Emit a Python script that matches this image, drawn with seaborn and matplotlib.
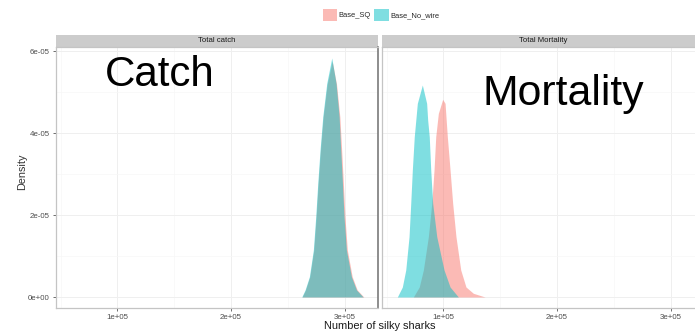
import pandas as pd
import matplotlib.pyplot as plt
import seaborn as sns
from matplotlib.patches import Rectangle, Patch
from matplotlib.ticker import FuncFormatter, MultipleLocator

# density curves (x in 1e5 sharks, density in 1e-5)
catch_sq_x = [2.627, 2.656, 2.694, 2.729, 2.750, 2.768, 2.788, 2.812, 2.847, 2.891,
              2.929, 2.958, 2.974, 2.989, 3.003, 3.024, 3.067, 3.111, 3.169]
catch_sq_y = [0, 0.171, 0.495, 1.146, 1.959, 2.780, 3.585, 4.398, 5.190, 5.750,
              5.190, 4.398, 3.585, 2.780, 1.959, 1.146, 0.495, 0.171, 0]
catch_nw_x = [2.623, 2.652, 2.690, 2.725, 2.746, 2.764, 2.784, 2.808, 2.843, 2.887,
              2.925, 2.952, 2.966, 2.981, 2.995, 3.016, 3.060, 3.105, 3.163]
catch_nw_y = [0, 0.171, 0.495, 1.146, 1.959, 2.780, 3.585, 4.398, 5.212, 5.830,
              5.212, 4.398, 3.585, 2.780, 1.959, 1.146, 0.495, 0.171, 0]
mort_sq_x = [0.736, 0.788, 0.824, 0.868, 0.898, 0.918, 0.933, 0.956, 0.994,
             1.015, 1.035, 1.059, 1.082, 1.111, 1.153, 1.199, 1.264, 1.367]
mort_sq_y = [0, 0.244, 0.659, 1.471, 2.285, 3.098, 3.910, 4.480, 4.822,
             4.724, 3.910, 3.098, 2.285, 1.471, 0.659, 0.244, 0.090, 0]
mort_nw_x = [0.595, 0.639, 0.669, 0.698, 0.713, 0.727, 0.744, 0.771, 0.815,
             0.853, 0.862, 0.876, 0.889, 0.906, 0.942, 1.006, 1.059, 1.132]
mort_nw_y = [0, 0.244, 0.659, 1.471, 2.285, 3.098, 3.910, 4.724, 5.171,
             4.724, 4.317, 3.910, 3.098, 2.285, 1.471, 0.659, 0.244, 0]

panels = ["Total catch", "Total Mortality"]
scenarios = ["Base_SQ", "Base_No_wire"]
colors = ["#F8766D", "#00BFC4"]

curves = [
    (panels[0], scenarios[0], catch_sq_x, catch_sq_y),
    (panels[0], scenarios[1], catch_nw_x, catch_nw_y),
    (panels[1], scenarios[0], mort_sq_x, mort_sq_y),
    (panels[1], scenarios[1], mort_nw_x, mort_nw_y),
]
rows = []
for p, s, xs, ys in curves:
    for xv, yv in zip(xs, ys):
        rows.append({"panel": p, "scenario": s, "x": xv * 1e5, "density": yv * 1e-5})
df = pd.DataFrame(rows)

sns.set_theme(style="white")
plt.rcParams['font.family'] = ['Liberation Sans', 'DejaVu Sans']

g = sns.FacetGrid(df, col="panel", col_order=panels, hue="scenario",
                  hue_order=scenarios, palette=colors, despine=False)
g.map(plt.fill_between, "x", "density", alpha=0.5, linewidth=0)
g.set_titles("")
g.set_axis_labels("", "")

fig = g.figure
fig.set_size_inches(6.95, 3.33)
W, H = 695, 333
pw, ph = 322, 261
lefts = [56, 382]

fmt = FuncFormatter(lambda v, pos: "{:.0e}".format(v))
for i, ax in enumerate(g.axes.flat):
    ax.set_position([lefts[i] / W, (H - 308) / H, pw / W, ph / H])
    ax.set_xlim(0.46e5, 3.294e5)
    ax.set_ylim(-2.683e-6, 6.098e-5)
    ax.xaxis.set_major_locator(MultipleLocator(1e5))
    ax.xaxis.set_minor_locator(MultipleLocator(0.5e5))
    ax.yaxis.set_major_locator(MultipleLocator(2e-5))
    ax.yaxis.set_minor_locator(MultipleLocator(1e-5))
    ax.xaxis.set_major_formatter(fmt)
    ax.yaxis.set_major_formatter(fmt)
    ax.set_axisbelow(True)
    ax.grid(which="major", color="#efefef", linewidth=0.7)
    ax.grid(which="minor", color="#f7f7f7", linewidth=0.5)
    ax.tick_params(which="major", length=2.5, width=0.6, color="#555555",
                   labelsize=5.7, labelcolor="#4d4d4d", pad=2,
                   bottom=True, left=(i == 0), labelleft=(i == 0), labelbottom=True)
    ax.tick_params(which="minor", length=0)
    for side, sp in ax.spines.items():
        sp.set_color("#c4c4c4")
        sp.set_linewidth(0.9)
    if i == 0:
        ax.spines["right"].set_color("#7a7a7a")
        ax.spines["right"].set_linewidth(1.2)
    # strip
    ax.add_patch(Rectangle((0, 1), 1, 12 / ph, transform=ax.transAxes,
                           facecolor="#cccccc", edgecolor="none", clip_on=False))
    ax.text(0.5, 1 + 6 / ph, panels[i], transform=ax.transAxes, ha="center",
            va="center", fontsize=5.6, color="#1a1a1a")

fig.text(22 / W, 1 - 172 / H, "Density", rotation=90, ha="center", va="center",
         fontsize=7.8, color="#333333")
fig.text(380 / W, 1 - 326 / H, "Number of silky sharks", ha="center", va="center",
         fontsize=7.9, color="#1a1a1a")

handles = [Patch(facecolor=c, alpha=0.5, edgecolor="none") for c in colors]
fig.legend(handles, scenarios, loc="center", bbox_to_anchor=(381 / W, 1 - 15 / H),
           ncol=2, frameon=False, fontsize=5.4, handlelength=1.9, handleheight=1.9,
           handletextpad=0.2, columnspacing=0.5, borderpad=0)

fig.text(105 / W, 1 - 86 / H, "Catch", fontsize=30.3, color="black", va="baseline")
fig.text(483 / W, 1 - 105 / H, "Mortality", fontsize=30.8, color="black", va="baseline")

fig.savefig("out.png", dpi=100)
